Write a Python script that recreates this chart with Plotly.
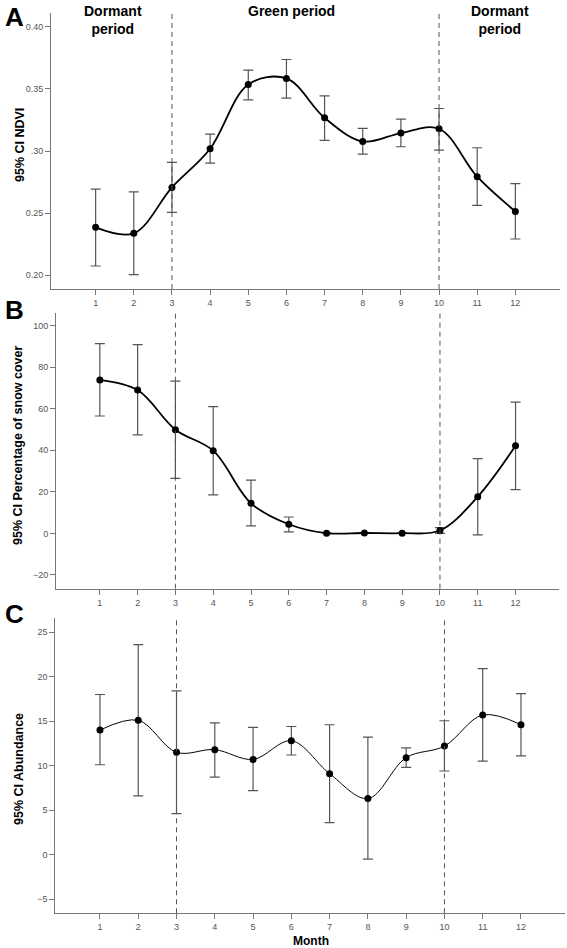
import plotly.graph_objects as go

months = list(range(1, 13))

ndvi_mean = [0.2386, 0.2338, 0.2707, 0.3018, 0.3535, 0.3584, 0.3267, 0.3077, 0.3144, 0.3179, 0.2793, 0.2514]
ndvi_upper = [0.2694, 0.2672, 0.2908, 0.3136, 0.3650, 0.3736, 0.3444, 0.3182, 0.3257, 0.3342, 0.3026, 0.2737]
ndvi_lower = [0.2075, 0.2005, 0.2506, 0.2903, 0.3412, 0.3425, 0.3085, 0.2975, 0.3034, 0.3007, 0.2563, 0.2292]

snow_mean = [73.8, 69.0, 49.9, 39.8, 14.5, 4.4, 0.1, 0.2, 0.1, 1.4, 17.7, 42.2]
snow_upper = [91.3, 90.8, 73.3, 61.0, 25.6, 7.9, None, None, None, 2.8, 36.0, 63.2]
snow_lower = [56.5, 47.4, 26.5, 18.5, 3.6, 0.7, None, None, None, 0.0, -0.7, 21.1]

abund_mean = [14.0, 15.1, 11.5, 11.8, 10.7, 12.8, 9.1, 6.3, 10.9, 12.2, 15.7, 14.6]
abund_upper = [18.0, 23.6, 18.4, 14.8, 14.3, 14.4, 14.6, 13.2, 12.0, 15.05, 20.9, 18.1]
abund_lower = [10.1, 6.6, 4.6, 8.7, 7.2, 11.2, 3.6, -0.5, 9.8, 9.4, 10.5, 11.1]

ndvi_ticks = [0.20, 0.25, 0.30, 0.35, 0.40]
ndvi_ticktext = ["0.20", "0.25", ".30", "0.35", "0.40"]
snow_ticks = [-20, 0, 20, 40, 60, 80, 100]
abund_ticks = [-5, 0, 5, 10, 15, 20, 25]
boundary_months = [3, 10]

W, H = 567, 948


def px_x(p):
    return p / W


def px_y(p):
    return 1 - p / H


def errs(mean, upper, lower):
    plus = [None if u is None else u - m for m, u in zip(mean, upper)]
    minus = [None if l is None else m - l for m, l in zip(mean, lower)]
    return plus, minus


fig = go.Figure()

panels = [
    (ndvi_mean, ndvi_upper, ndvi_lower, "x", "y", 1.8),
    (snow_mean, snow_upper, snow_lower, "x2", "y2", 1.8),
    (abund_mean, abund_upper, abund_lower, "x3", "y3", 1.0),
]
for mean, up, lo, xa, ya, lw in panels:
    plus, minus = errs(mean, up, lo)
    fig.add_trace(go.Scatter(
        x=months, y=mean, xaxis=xa, yaxis=ya,
        mode="lines+markers",
        line=dict(color="black", width=lw, shape="spline", smoothing=1.0),
        marker=dict(color="black", size=7),
        error_y=dict(type="data", symmetric=False, array=plus, arrayminus=minus,
                     color="#555555", thickness=1.2, width=5),
        showlegend=False,
    ))

axis_common = dict(showgrid=False, zeroline=False, showline=True, linecolor="#777777",
                   linewidth=1, ticks="outside", ticklen=5, tickcolor="#777777",
                   tickfont=dict(family="Liberation Sans, Arial", size=9, color="#555555"))

xdomains = [[px_x(51), px_x(560)], [px_x(56), px_x(559)], [px_x(55.3), px_x(565)]]
xranges = [[-0.17, 13.17], [-0.16, 13.15], [-0.167, 13.15]]
ydomains = [[px_y(289), px_y(13)], [px_y(588.7), px_y(312.7)], [px_y(913.3), px_y(618)]]
yranges = [[0.189, 0.411], [-26.6, 106.2], [-6.6, 26.6]]

layout = dict(
    width=W, height=H, margin=dict(l=0, r=0, t=0, b=0),
    plot_bgcolor="white", paper_bgcolor="white",
)
names = ["", "2", "3"]
anchors_y = ["y", "y2", "y3"]
anchors_x = ["x", "x2", "x3"]
for i in range(3):
    layout["xaxis" + names[i]] = dict(axis_common, domain=xdomains[i], range=xranges[i],
                                      anchor=anchors_y[i], tickvals=months,
                                      ticktext=[str(m) for m in months])
ylay = [
    dict(tickvals=ndvi_ticks, ticktext=ndvi_ticktext),
    dict(tickvals=snow_ticks),
    dict(tickvals=abund_ticks),
]
for i in range(3):
    layout["yaxis" + names[i]] = dict(axis_common, domain=ydomains[i], range=yranges[i],
                                      anchor=anchors_x[i], **ylay[i])
fig.update_layout(**layout)

shapes = []
for i in range(3):
    for bm in boundary_months:
        shapes.append(dict(type="line", xref=anchors_x[i], yref=anchors_y[i] + " domain",
                           x0=bm, x1=bm, y0=0, y1=1,
                           line=dict(color="#555555", width=1, dash="5px,4px")))
fig.update_layout(shapes=shapes)

bold = dict(family="Liberation Sans, Arial", color="black")
ann = []
# panel letters
for letter, yc in [("A", 17), ("B", 310), ("C", 614)]:
    ann.append(dict(text="<b>%s</b>" % letter, x=px_x(14), y=px_y(yc), xref="paper", yref="paper",
                    showarrow=False, font=dict(bold, size=26), xanchor="center", yanchor="middle"))
# period labels
for txt, xc in [("<b>Dormant<br>period</b>", 113), ("<b>Green period</b>", 291), ("<b>Dormant<br>period</b>", 500)]:
    ann.append(dict(text=txt, x=px_x(xc), y=px_y(1), xref="paper", yref="paper", showarrow=False,
                    font=dict(bold, size=14), xanchor="center", yanchor="top"))
# y-axis titles
for txt, yc, xc in [("95% CI NDVI", 145, 20), ("95% CI Percentage of snow cover", 445, 18),
                    ("95% CI Abundance", 769, 19)]:
    ann.append(dict(text="<b>%s</b>" % txt, x=px_x(xc), y=px_y(yc), xref="paper", yref="paper",
                    showarrow=False, textangle=-90, font=dict(bold, size=12.5),
                    xanchor="center", yanchor="middle"))
ann.append(dict(text="<b>Month</b>", x=px_x(311), y=px_y(941), xref="paper", yref="paper",
                showarrow=False, font=dict(bold, size=12), xanchor="center", yanchor="middle"))
fig.update_layout(annotations=ann)

fig.write_html("out.html", config={"displayModeBar": False},
               post_script="document.body.style.margin='0';document.body.style.overflow='hidden';")
